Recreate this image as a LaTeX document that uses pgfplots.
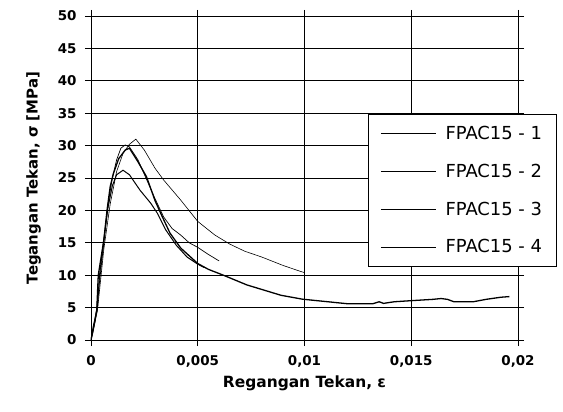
\documentclass[border=0pt]{standalone}
\usepackage{fontspec}
\setmainfont{DejaVu Sans}
\usepackage{pgfplots}
\pgfplotsset{compat=1.18}

\begin{document}
\begin{tikzpicture}
\path[use as bounding box] (-91bp,-72bp) rectangle (472bp,340bp);
\begin{axis}[
  at={(0,0)}, anchor=south west,
  scale only axis, width=427bp, height=324bp,
  xmin=0, xmax=0.02, ymin=0, ymax=50,
  xtick={0,0.005,0.01,0.015,0.02},
  xticklabels={0,{0,005},{0,01},{0,015},{0,02}},
  ytick={0,5,...,50},
  scaled x ticks=false,
  tick align=outside, major tick length=6bp,
  tick style={black, line width=0.8pt},
  grid=major, grid style={black, line width=0.7pt},
  axis line style={black, line width=0.9pt},
  ticklabel style={font=\fontsize{13.5}{15}\selectfont\bfseries},
  xticklabel style={yshift=-6bp},
  yticklabel style={xshift=-5bp},
  /pgf/number format/assume math mode=true,
  xlabel={Regangan Tekan, ε},
  ylabel={Tegangan Tekan, σ [MPa]},
  xlabel style={font=\fontsize{15.5}{17}\selectfont\bfseries, yshift=-2bp},
  ylabel style={font=\fontsize{15}{17}\selectfont\bfseries, yshift=10bp},
  legend style={at={(0.649,0.698)}, anchor=north west, draw=black,
    line width=0.9pt, font=\fontsize{18}{20}\selectfont,
    row sep=19pt, inner xsep=12bp, inner ysep=10bp},
  legend cell align=left,
  legend image code/.code={\draw[black, line width=0.6pt] (0bp,0bp) -- (55bp,0bp); \path (62bp,0bp);},
]
% FPAC15 - 1: long tail
\addplot[black, line width=1.3pt] coordinates {
(0,0) (0.0001,1.5) (0.00027,4.6) (0.00034,10) (0.0006,15.4) (0.00075,20)
(0.0009,23.7) (0.00105,25.7) (0.0013,28) (0.0016,29.3) (0.0018,29.6)
(0.0022,27.5) (0.0026,25.2) (0.003,21.5) (0.0033,19.3) (0.0037,16.5)
(0.0042,14.2) (0.005,11.8) (0.0055,10.9) (0.0062,10.0) (0.0073,8.5)
(0.0089,6.9) (0.0099,6.3) (0.0111,5.9) (0.012,5.6) (0.0132,5.6)
(0.0135,5.9) (0.0137,5.65) (0.0142,5.9) (0.0149,6.05) (0.016,6.27)
(0.0164,6.4) (0.0167,6.27) (0.017,5.9) (0.0179,5.9) (0.0185,6.27)
(0.0192,6.6) (0.0196,6.7)
};
% FPAC15 - 2: peak 30
\addplot[black, line width=0.7pt] coordinates {
(0,0) (0.0002,3) (0.0004,9) (0.0006,15) (0.0008,21) (0.001,25)
(0.0012,27.8) (0.0014,29.6) (0.0016,30.1) (0.0018,29.8) (0.0022,27.8)
(0.0026,24.8) (0.003,21.8) (0.0034,19) (0.0038,17.2) (0.0042,16.2)
(0.0046,15) (0.005,14.3) (0.0055,13.2) (0.006,12.2)
};
% FPAC15 - 3: highest peak
\addplot[black, line width=0.6pt] coordinates {
(0,0) (0.0003,4.5) (0.0006,14) (0.0009,21) (0.0012,26) (0.0015,28.8)
(0.0018,30.2) (0.0021,31.0) (0.0025,29.3) (0.003,26.5) (0.0034,24.7)
(0.0042,21.6) (0.005,18.3) (0.0058,16.2) (0.0065,14.8) (0.0072,13.7)
(0.008,12.8) (0.009,11.5) (0.0098,10.6) (0.01,10.4)
};
% FPAC15 - 4: low peak
\addplot[black, line width=1.0pt] coordinates {
(0,0) (0.0001,2) (0.0003,5) (0.0004,10) (0.0006,15.5) (0.0008,20.5)
(0.001,23.8) (0.0012,25.5) (0.0015,26.2) (0.0018,25.5) (0.0023,23.1)
(0.0028,21.1) (0.0031,19.6) (0.0035,17) (0.004,14.6) (0.0045,12.8)
(0.005,11.7) (0.0053,11.2)
};
\legend{FPAC15 - 1, FPAC15 - 2, FPAC15 - 3, FPAC15 - 4}
\end{axis}
\end{tikzpicture}
\end{document}
